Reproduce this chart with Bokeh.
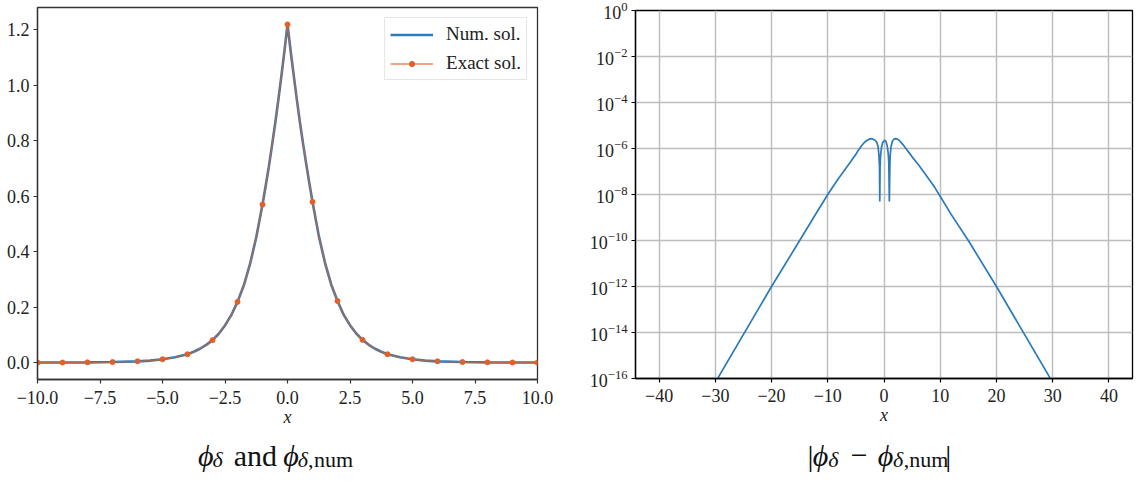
from bokeh.plotting import figure
from bokeh.layouts import row, column
from bokeh.models import Range1d, FixedTicker, Legend, LegendItem
from bokeh.core.properties import value
from bokeh.embed import file_html
from bokeh.resources import INLINE

# ---------------- data ----------------
# left panel: phi_delta (numerical and exact)
curve_x = [-10, -9, -8, -7, -6, -5.5, -5, -4.5, -4, -3.75, -3.5, -3.25, -3, -2.75, -2.5, -2.25, -2, -1.75, -1.5, -1.25,
           -1, -0.875, -0.75, -0.625, -0.5, -0.375, -0.25, -0.125, 0,
           0.125, 0.25, 0.375, 0.5, 0.625, 0.75, 0.875, 1, 1.25, 1.5, 1.75, 2, 2.25, 2.5, 2.75, 3, 3.25, 3.5, 3.75, 4,
           4.5, 5, 5.5, 6, 7, 8, 9, 10]
curve_y = [0.0001, 0.0003, 0.0008, 0.002, 0.0045, 0.0072, 0.012, 0.019, 0.030, 0.039, 0.050, 0.064, 0.081, 0.104, 0.134, 0.171, 0.219, 0.278, 0.355, 0.452,
           0.570, 0.636, 0.705, 0.780, 0.858, 0.942, 1.030, 1.122, 1.220,
           1.125, 1.035, 0.948, 0.865, 0.788, 0.716, 0.646, 0.580, 0.458, 0.360, 0.281, 0.222, 0.172, 0.135, 0.105, 0.082, 0.064, 0.050, 0.039, 0.030,
           0.019, 0.012, 0.0072, 0.0045, 0.002, 0.0008, 0.0003, 0.0001]
exact_x = [-10, -9, -8, -7, -6, -5, -4, -3, -2, -1, 0, 1, 2, 3, 4, 5, 6, 7, 8, 9, 10]
exact_y = [0.0001, 0.0003, 0.0008, 0.002, 0.0045, 0.012, 0.030, 0.081, 0.219, 0.570, 1.220,
           0.580, 0.222, 0.082, 0.030, 0.012, 0.0045, 0.002, 0.0008, 0.0003, 0.0001]
left_xticks = [-10, -7.5, -5, -2.5, 0, 2.5, 5, 7.5, 10]
left_yticks = [0.0, 0.2, 0.4, 0.6, 0.8, 1.0, 1.2]

# right panel: |phi_delta - phi_delta,num|
err_x = [-31, -20, -15, -12, -10, -9, -8, -7, -6, -5, -4.5, -4, -3.5, -3, -2.4, -2.0, -1.6, -1.3, -1.05, -0.9, -0.8, -0.75,
         -0.7, -0.6, -0.45, -0.25, 0.1, 0.4, 0.6, 0.75, 0.85, 0.95, 1.05, 1.1, 1.25, 1.5, 1.8, 2.1, 2.6,
         3.1, 3.6, 4.1, 4.6, 5.1, 6.1, 7.1, 8.1, 9.1, 9.8, 12, 15, 20, 31]
err_y = [2.6e-17, 1e-12, 1e-10, 1.6e-9, 1e-8, 2.34e-8, 5.4e-8, 1.17e-7, 2.5e-7, 5.6e-7, 8.9e-7, 1.32e-6, 1.82e-6, 2.29e-6, 2.69e-6, 2.57e-6, 2.29e-6, 1.9e-6, 1.2e-6, 5e-7, 1.5e-7, 5e-9,
         1.5e-7, 5e-7, 1.1e-6, 1.8e-6, 2.3e-6, 1.9e-6, 1.2e-6, 6e-7, 2.5e-7, 5e-9, 2e-7, 5e-7, 1.2e-6, 2.1e-6, 2.6e-6, 2.69e-6, 2.4e-6,
         1.75e-6, 1.25e-6, 8.5e-7, 6.0e-7, 4.0e-7, 2.0e-7, 9.3e-8, 4.3e-8, 1.9e-8, 1e-8, 1.3e-9, 1e-10, 1e-12, 2.6e-17]
right_xticks = [-40, -30, -20, -10, 0, 10, 20, 30, 40]
right_yticks = [1e-16, 1e-14, 1e-12, 1e-10, 1e-8, 1e-6, 1e-4, 1e-2, 1e0]

# ---------------- style ----------------
FONT = "Liberation Serif"
BLUE = "#2b7bba"
ORANGE = "#e0602a"

W_LEFT, W_RIGHT = 586, 552
H_MAIN, H_TITLE = 430, 52


def minus(s):
    return s.replace("-", "\u2212")


def style_axes(p, spine):
    for ax in (p.xaxis, p.yaxis):
        ax.major_label_text_font = FONT
        ax.major_label_text_font_size = "18px"
        ax.major_label_text_color = "#222222"
        ax.major_tick_in = 0
        ax.major_tick_out = 4
        ax.major_tick_line_color = spine
        ax.major_tick_line_width = 1.2
        ax.minor_tick_line_color = None
        ax.axis_line_color = spine
        ax.axis_line_width = 1.3
    p.xaxis.major_label_standoff = 7
    p.yaxis.major_label_standoff = 4
    p.xaxis.axis_label = "x"
    p.xaxis.axis_label_text_font = FONT
    p.xaxis.axis_label_text_font_style = "italic"
    p.xaxis.axis_label_text_font_size = "18px"
    p.xaxis.axis_label_text_color = "#222222"
    p.xaxis.axis_label_standoff = 0
    p.outline_line_color = spine
    p.outline_line_width = 1.3
    p.outline_line_alpha = 1.0


def title_fig(width, left_page, pieces):
    t = figure(width=width, height=H_TITLE, x_range=Range1d(left_page, left_page + width),
               y_range=Range1d(H_MAIN + H_TITLE, H_MAIN), output_backend="svg", toolbar_location=None,
               x_axis_location=None, y_axis_location=None, min_border=0)
    t.outline_line_color = None
    t.xgrid.visible = False
    t.ygrid.visible = False
    base = 455
    for text, px, size, style, sub in pieces:
        t.text(x=[px], y=[base + (4 if sub else 0)], text=[text],
               text_font=value(FONT), text_font_size=value(f"{size}px"),
               text_font_style=value(style), text_color="#111111",
               text_align=value("left"), text_baseline=value("alphabetic"))
    return t


# ---------------- left figure ----------------
p1 = figure(width=W_LEFT, height=H_MAIN, x_range=Range1d(-10, 10), y_range=Range1d(-0.061, 1.281),
            output_backend="svg", toolbar_location=None,
            min_border_left=37, min_border_right=49, min_border_top=7, min_border_bottom=51)
p1.xgrid.visible = False
p1.ygrid.visible = False
style_axes(p1, "#333333")
p1.xaxis.ticker = FixedTicker(ticks=left_xticks)
p1.yaxis.ticker = FixedTicker(ticks=left_yticks)
p1.xaxis.major_label_overrides = {t: minus(f"{t:.1f}") for t in left_xticks}
p1.yaxis.major_label_overrides = {t: minus(f"{t:.1f}") for t in left_yticks}

r_num = p1.line(curve_x, curve_y, line_color=BLUE, line_width=2.6)
r_ex_line = p1.line(curve_x, curve_y, line_color=ORANGE, line_width=1.3, line_alpha=0.75)
r_ex_pts = p1.scatter(exact_x, exact_y, size=5, fill_color=ORANGE, line_color=ORANGE)

legend = Legend(items=[LegendItem(label="Num. sol.", renderers=[r_num]),
                       LegendItem(label="Exact sol.", renderers=[r_ex_line, r_ex_pts])],
                location="top_right", margin=10, padding=5, spacing=7,
                glyph_width=43, glyph_height=13, label_height=20, label_standoff=13,
                label_text_font=FONT, label_text_font_size="19px", label_text_color="#222222",
                border_line_color="#cccccc", border_line_width=1,
                background_fill_color="white", background_fill_alpha=0.85)
p1.add_layout(legend)

t1 = title_fig(W_LEFT, 0, [("\u03d5", 188, 30, "italic", False),
                           ("\u03b4", 205, 22, "italic", True),
                           ("and", 230, 30, "normal", False),
                           ("\u03d5", 288, 30, "italic", False),
                           ("\u03b4", 305, 22, "italic", True),
                           (",", 317, 22, "normal", True),
                           ("num", 324, 22, "normal", True)])

# ---------------- right figure ----------------
p2 = figure(width=W_RIGHT, height=H_MAIN, x_range=Range1d(-44.2, 44.2), y_range=Range1d(1e-16, 1),
            y_axis_type="log", output_backend="svg", toolbar_location=None,
            min_border_left=49, min_border_right=6, min_border_top=10, min_border_bottom=52)
style_axes(p2, "#000000")
p2.xaxis.ticker = FixedTicker(ticks=right_xticks)
p2.yaxis.ticker = FixedTicker(ticks=right_yticks)
p2.xaxis.major_label_overrides = {t: minus(str(t)) for t in right_xticks}
p2.xaxis.major_label_standoff = 6
for g in (p2.xgrid, p2.ygrid):
    g.grid_line_color = "#bdbdbd"
    g.grid_line_width = 1.5
    g.grid_line_alpha = 1.0

p2.line(err_x, err_y, line_color=BLUE, line_width=1.7)

t2 = title_fig(W_RIGHT, W_LEFT, [("|", 777, 30, "normal", False),
                                 ("\u03d5", 783, 30, "italic", False),
                                 ("\u03b4", 800, 22, "italic", True),
                                 ("\u2212", 825, 30, "normal", False),
                                 ("\u03d5", 855, 30, "italic", False),
                                 ("\u03b4", 872, 22, "italic", True),
                                 (",", 884, 22, "normal", True),
                                 ("num", 890, 22, "normal", True),
                                 ("|", 930, 30, "normal", False)])

layout = row(column(p1, t1), column(p2, t2))
open("out.html", "w").write(file_html(layout, INLINE))
